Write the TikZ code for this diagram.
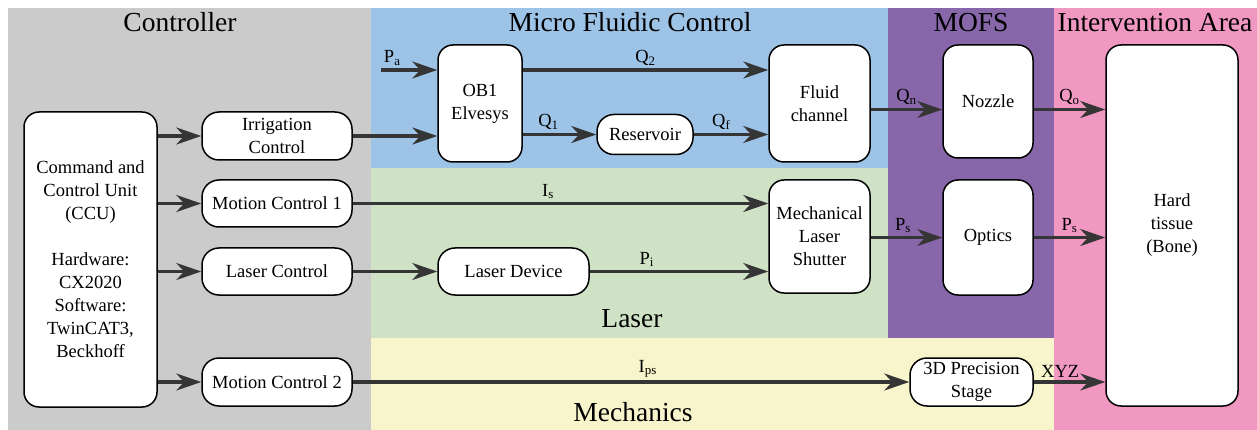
\documentclass[tikz,border=0pt]{standalone}
\usepackage{fontspec}
\setmainfont{LiberationSerif}[Extension=.ttf, UprightFont=*-Regular, BoldFont=*-Bold]
\usetikzlibrary{arrows.meta}
\definecolor{cgray}{HTML}{CBCBCB}
\definecolor{cblue}{HTML}{9DC3E6}
\definecolor{cgreen}{HTML}{D0E2C5}
\definecolor{cyellow}{HTML}{F8F5CC}
\definecolor{cpurple}{HTML}{8766AA}
\definecolor{cpink}{HTML}{F098C2}
\definecolor{carrow}{HTML}{353535}
\tikzset{
  bx/.style={draw=black, line width=1.5pt, fill=white, rounded corners=15pt, align=center,
    inner sep=0pt, font=\rmfamily\fontsize{18.5}{23}\selectfont},
  pill/.style={bx, rounded corners=17pt},
  arr/.style={draw=carrow, line width=3.2pt, -{Stealth[length=25pt, width=17pt, inset=8pt]}},
  lbl/.style={font=\rmfamily\fontsize{18.5}{23}\selectfont, inner sep=3pt, text=black},
  ttl/.style={font=\rmfamily\fontsize{27.5}{30}\selectfont, anchor=base, inner sep=0pt}
}
\begin{document}
\begin{tikzpicture}[x=1pt, y=-1pt]
\useasboundingbox (0,0) rectangle (1257,430);
\fill[white] (0,0) rectangle (1257,430);
% regions
\fill[cgray] (8,8) rectangle (371,430);
\fill[cblue] (371,8) rectangle (888,168);
\fill[cgreen] (371,168) rectangle (888,338);
\fill[cyellow] (371,338) rectangle (1054,430);
\fill[cpurple] (888,8) rectangle (1054,338);
\fill[cpink] (1054,8) rectangle (1257,430);
% titles
\node[ttl] (tctrl) at (180,32) {Controller};
\node[ttl] (tmfc) at (630,32) {Micro Fluidic Control};
\node[ttl] (tmofs) at (971,32) {MOFS};
\node[ttl] (tint) at (1155,32) {Intervention Area};
\node[ttl] (tlaser) at (632,327) {Laser};
\node[ttl] (tmech) at (633,421) {Mechanics};
% nodes
\node[bx, minimum width=133pt, minimum height=295pt] (ccu) at (90.5,259.5)
  {Command and\\Control Unit\\(CCU)\\[23pt]Hardware:\\CX2020\\Software:\\TwinCAT3,\\Beckhoff};
\node[pill, minimum width=150pt, minimum height=48pt] (irr) at (277,136) {Irrigation\\Control};
\node[pill, minimum width=150pt, minimum height=47pt] (mc1) at (277,203.5) {Motion Control 1};
\node[pill, minimum width=150pt, minimum height=47pt] (lc) at (277,271.5) {Laser Control};
\node[pill, minimum width=150pt, minimum height=48pt] (mc2) at (277,382) {Motion Control 2};
\node[bx, minimum width=84pt, minimum height=117pt] (ob1) at (480,103.5) {OB1\\Elvesys};
\node[bx, minimum width=101pt, minimum height=117pt] (fc) at (819.5,103.5) {Fluid\\channel};
\node[pill, minimum width=96pt, minimum height=40pt] (res) at (645,134.5) {Reservoir};
\node[pill, minimum width=151pt, minimum height=47pt] (ld) at (513.5,271.5) {Laser Device};
\node[bx, minimum width=101pt, minimum height=113pt] (sh) at (819.5,236.5) {Mechanical\\Laser\\Shutter};
\node[bx, minimum width=90pt, minimum height=113pt] (noz) at (988,101.5) {Nozzle};
\node[bx, minimum width=90pt, minimum height=115pt] (opt) at (988,237.5) {Optics};
\node[pill, minimum width=123pt, minimum height=48pt] (st) at (971.5,382) {3D Precision\\Stage};
\node[bx, minimum width=132pt, minimum height=361pt] (hard) at (1172,225.5) {Hard\\tissue\\(Bone)};
% connectors
\coordinate (pa) at (381,70);
\coordinate (qn) at ([yshift=-6pt]fc.east);
\draw[arr] (ccu.east |- irr.west) -- (irr.west);
\draw[arr] (ccu.east |- mc1.west) -- (mc1.west);
\draw[arr] (ccu.east |- lc.west) -- (lc.west);
\draw[arr] (ccu.east |- mc2.west) -- (mc2.west);
\draw[arr] (pa) -- (pa -| ob1.west) node[lbl, pos=0.2, above] {P\textsubscript{a}};
\draw[arr] (irr.east) -- (irr.east -| ob1.west);
\draw[arr] (pa -| ob1.east) -- (pa -| fc.west) node[lbl, midway, above] {Q\textsubscript{2}};
\draw[arr] (ob1.east |- res.west) -- (res.west) node[lbl, pos=0.35, above] {Q\textsubscript{1}};
\draw[arr] (res.east) -- (res.east -| fc.west) node[lbl, pos=0.37, above] {Q\textsubscript{f}};
\draw[arr] (qn) -- (qn -| noz.west) node[lbl, midway, above] {Q\textsubscript{n}};
\draw[arr] (qn -| noz.east) -- (qn -| hard.west) node[lbl, midway, above] {Q\textsubscript{o}};
\draw[arr] (mc1.east) -- (mc1.east -| sh.west) node[lbl, pos=0.47, above] {I\textsubscript{s}};
\draw[arr] (lc.east) -- (ld.west);
\draw[arr] (ld.east) -- (ld.east -| sh.west) node[lbl, pos=0.32, above] {P\textsubscript{i}};
\draw[arr] (sh.east |- opt.west) -- (opt.west) node[lbl, pos=0.45, above] {P\textsubscript{s}};
\draw[arr] (opt.east) -- (opt.east -| hard.west) node[lbl, pos=0.5, above] {P\textsubscript{s}};
\draw[arr] (mc2.east) -- (st.west) node[lbl, pos=0.53, above] {I\textsubscript{ps}};
\draw[arr] (st.east) -- (st.east -| hard.west) node[lbl, pos=0.37, above] {XYZ};
\end{tikzpicture}
\end{document}
